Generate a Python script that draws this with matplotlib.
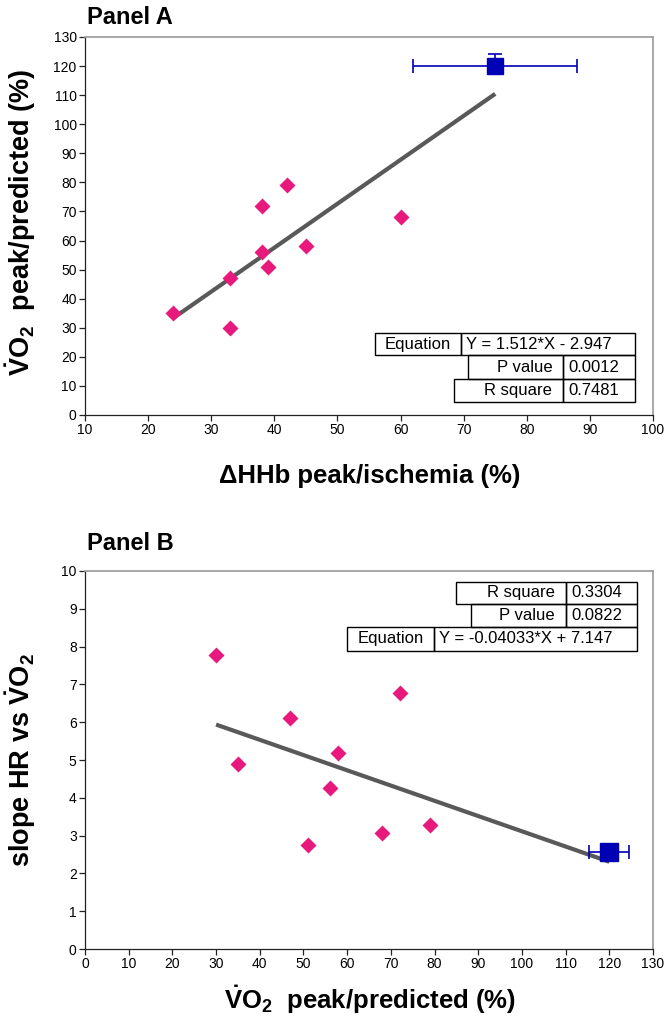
import numpy as np
import matplotlib
matplotlib.use("Agg")
import matplotlib.pyplot as plt
from matplotlib.patches import Rectangle
from matplotlib import font_manager

# ---- data ----
# Panel A: dHHb peak/ischemia vs VO2 peak/predicted
hhb = [24, 33, 33, 38, 38, 39, 42, 45, 60]
vo2 = [35, 30, 47, 56, 72, 51, 79, 58, 68]
ref_a = [75, 120]          # blue reference (mean)
ref_a_xerr = 13
ref_a_yerr = 4
slope_a, icpt_a = 1.512, -2.947
table_a = [["Equation", "Y = 1.512*X - 2.947"],
           ["P value", "0.0012"],
           ["R square", "0.7481"]]

# Panel B: VO2 peak/predicted vs slope HR vs VO2
vo2_b = [30, 35, 47, 51, 56, 58, 68, 72, 79]
hr_slope = [7.77, 4.9, 6.1, 2.75, 4.27, 5.18, 3.06, 6.78, 3.27]
ref_b = [120, 2.57]
ref_b_xerr = 4.6
slope_b, icpt_b = -0.04033, 7.147
table_b = [["R square", "0.3304"],
           ["P value", "0.0822"],
           ["Equation", "Y = -0.04033*X + 7.147"]]

names = {f.name for f in font_manager.fontManager.ttflist}
narrow = "Liberation Sans Narrow" if "Liberation Sans Narrow" in names else "Liberation Sans"

plt.rcParams["font.family"] = ["Liberation Sans", "DejaVu Sans"]
plt.rcParams["mathtext.fontset"] = "custom"
plt.rcParams["mathtext.bf"] = narrow + ":bold"
plt.rcParams["mathtext.rm"] = narrow

W, H = 669, 1021
fig = plt.figure(figsize=(W / 100, H / 100), dpi=100)

PINK = "#E8197C"
BLUE = "#0000B4"
LINE = "#595959"


def fx(p):
    return p / W


def fy(p):
    return 1 - p / H


def style(ax):
    for s in ["top", "right"]:
        ax.spines[s].set_color("#A0A0A0")
        ax.spines[s].set_linewidth(1.3)
    for s in ["left", "bottom"]:
        ax.spines[s].set_color("#222222")
        ax.spines[s].set_linewidth(0.9)
    ax.tick_params(direction="out", length=4, width=0.9, labelsize=10,
                   color="#222222", pad=2, top=False, right=False)


def draw_table(rows, cells, fs=12):
    # cells: per row (x0, xmid, x1, ytop, ybot, align) in pixels
    for (lab, val), (x0, xm, x1, yt, yb, al) in zip(rows, cells):
        for a, b in [(x0, xm), (xm, x1)]:
            fig.patches.append(Rectangle((fx(a), fy(yb)), fx(b) - fx(a), fy(yt) - fy(yb),
                                         transform=fig.transFigure, fill=False,
                                         edgecolor="black", linewidth=1.0))
        yc = fy((yt + yb) / 2)
        if al == "center":
            fig.text(fx((x0 + xm) / 2), yc, lab, ha="center", va="center", fontsize=fs)
        else:
            fig.text(fx(xm - 11), yc, lab, ha="right", va="center", fontsize=fs)
        fig.text(fx(xm + 5), yc, val, ha="left", va="center", fontsize=fs)


# ---- Panel A ----
axA = fig.add_axes([fx(85), fy(415), fx(653) - fx(85), fy(37) - fy(415)])
style(axA)
xl = np.array([min(hhb), ref_a[0]])
axA.plot(xl, slope_a * xl + icpt_a, color=LINE, lw=3, solid_capstyle="butt", zorder=2)
axA.plot(hhb, vo2, "D", color=PINK, ms=8.5, mec="none", zorder=3)
axA.errorbar([ref_a[0]], [ref_a[1]], xerr=ref_a_xerr, yerr=[[0], [ref_a_yerr]],
             fmt="s", color=BLUE, ms=12, elinewidth=1.2, capsize=5, capthick=1.2, zorder=4)
axA.set_xlim(10, 100)
axA.set_ylim(0, 130)
axA.set_xticks(np.arange(10, 101, 10))
axA.set_yticks(np.arange(0, 131, 10))

draw_table(table_a, [(374.7, 460.7, 635, 333.3, 355, "center"),
                     (468, 563.3, 635, 355, 379, "right"),
                     (454, 563.3, 635, 379, 401.7, "right")])

fig.text(fx(87), fy(18), "Panel A", fontsize=17, fontweight="bold",
         family=narrow, ha="left", va="center")
fig.text(fx(370), fy(476), "ΔHHb peak/ischemia (%)", fontsize=18.5, fontweight="bold",
         family=narrow, ha="center", va="center")
fig.text(fx(21), fy(222), r"$\mathbf{\dot{V}O_2}$  peak/predicted (%)", fontsize=19.5,
         fontweight="bold", family=narrow, rotation=90, ha="center", va="center")

# ---- Panel B ----
axB = fig.add_axes([fx(85), fy(949), fx(653) - fx(85), fy(571) - fy(949)])
style(axB)
xl = np.array([min(vo2_b), ref_b[0]])
axB.plot(xl, slope_b * xl + icpt_b, color=LINE, lw=3, solid_capstyle="butt", zorder=2)
axB.plot(vo2_b, hr_slope, "D", color=PINK, ms=8.5, mec="none", zorder=3)
axB.errorbar([ref_b[0]], [ref_b[1]], xerr=ref_b_xerr,
             fmt="s", color=BLUE, ms=13, elinewidth=1.2, capsize=5, capthick=1.2, zorder=4)
axB.set_xlim(0, 130)
axB.set_ylim(0, 10)
axB.set_xticks(np.arange(0, 131, 10))
axB.set_yticks(np.arange(0, 11, 1))

draw_table(table_b, [(455.7, 566, 636.7, 581.7, 604, "right"),
                     (471.3, 566, 636.7, 604, 627, "right"),
                     (347.3, 434.3, 636.7, 627, 650.5, "center")])

fig.text(fx(87), fy(543), "Panel B", fontsize=17, fontweight="bold",
         family=narrow, ha="left", va="center")
fig.text(fx(370), fy(1000), r"$\mathbf{\dot{V}O_2}$  peak/predicted (%)", fontsize=18.5,
         fontweight="bold", family=narrow, ha="center", va="center")
fig.text(fx(21), fy(760), r"slope HR vs $\mathbf{\dot{V}O_2}$", fontsize=19.5,
         fontweight="bold", family=narrow, rotation=90, ha="center", va="center")

fig.savefig("out.png", dpi=100)
